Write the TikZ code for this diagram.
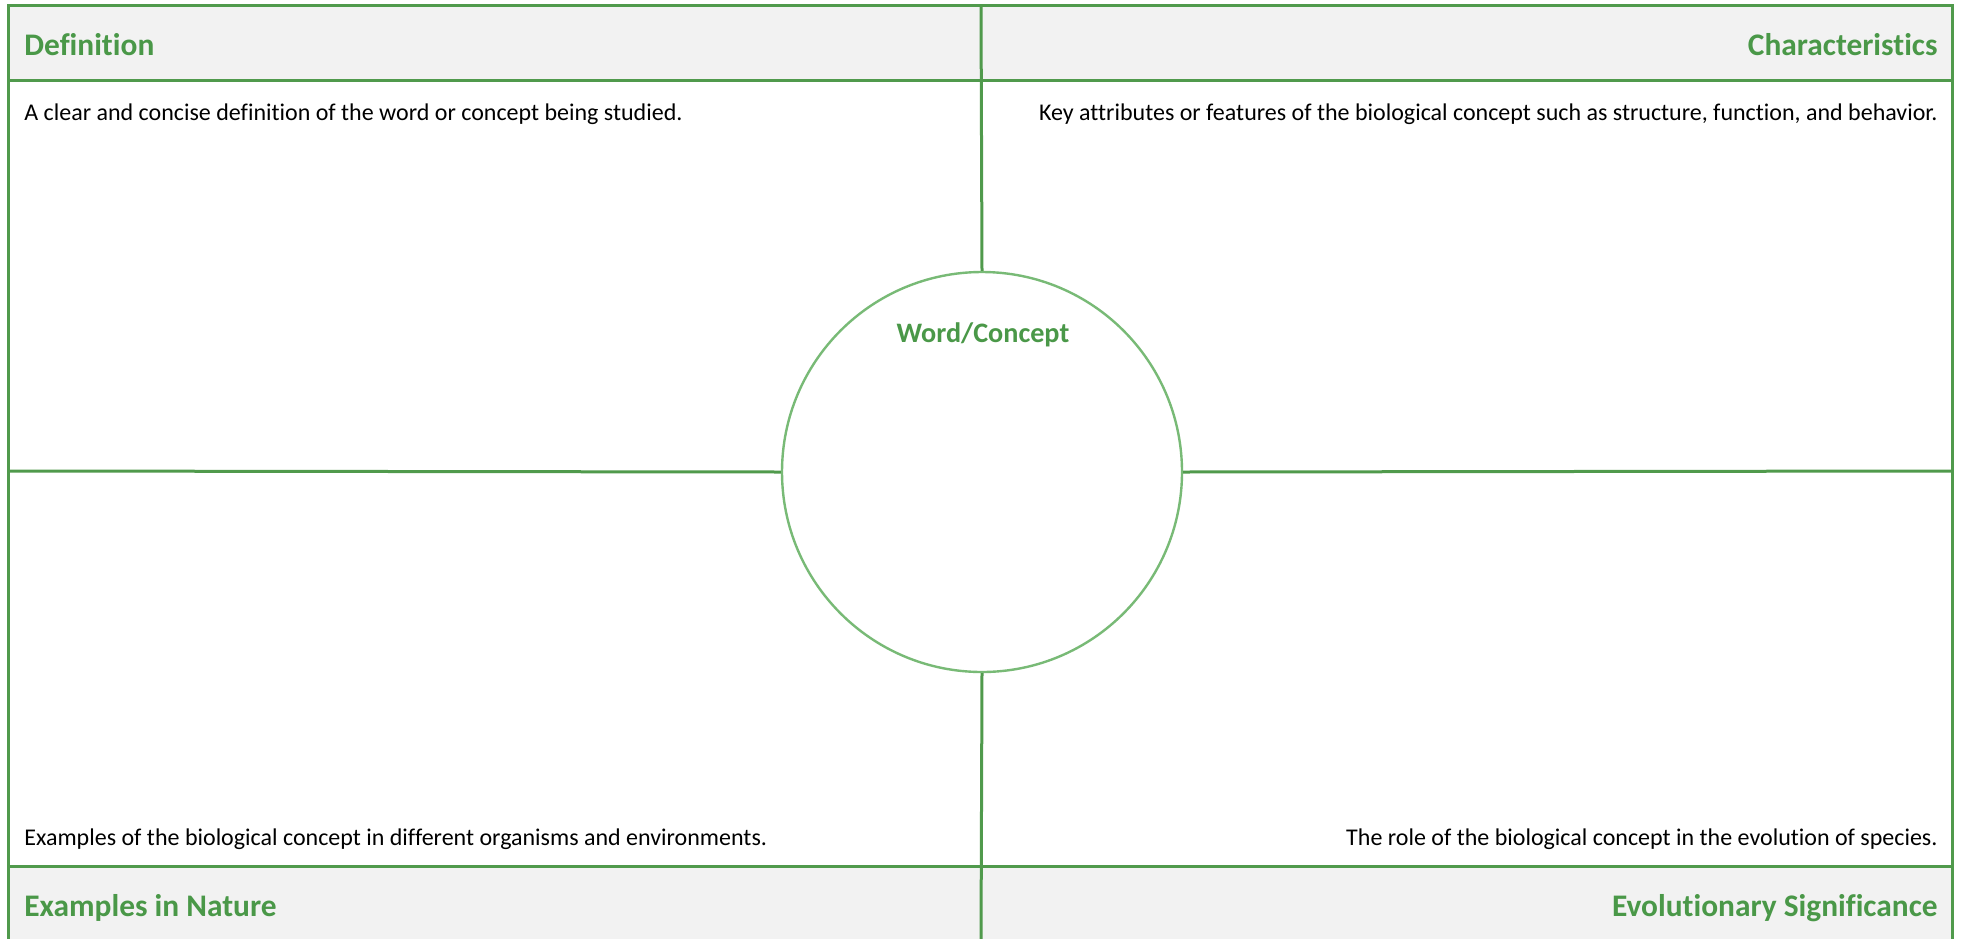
\documentclass[tikz,border=0pt]{standalone}
\usepackage{fontspec}
\setmainfont{Carlito}[Ligatures=NoCommon]
\definecolor{frame}{RGB}{80,154,76}
\definecolor{circ}{RGB}{120,186,118}
\definecolor{hdr}{RGB}{242,242,242}
\definecolor{hdrtext}{RGB}{74,152,72}
\begin{document}
\begin{tikzpicture}[x=0.5pt,y=-0.5pt,
  hdrlabel/.style={inner sep=0pt,font=\fontsize{15.7}{18}\selectfont\bfseries,text=hdrtext},
  bodylabel/.style={inner sep=0pt,font=\fontsize{12.0}{14}\selectfont,text=black},
  line/.style={draw=frame,line width=1.5pt}]
\useasboundingbox (0,0) rectangle (1961,938);
\fill[white] (0,0) rectangle (1961,938);
% header bands
\fill[hdr] (8,5) rectangle (1952,80);
\fill[hdr] (8,866) rectangle (1952,945);
% outer frame
\draw[line] (8,945) -- (8,5) -- (1952,5) -- (1952,945);
\draw[line] (8,80) -- (1952,80);
\draw[line] (8,866) -- (1952,866);
% circle
\node[draw=circ,line width=1.2pt,circle,minimum size=200pt,inner sep=0pt,fill=white] (c) at (982,472) {};
\coordinate (top) at (981,5);
\coordinate (bot) at (981,945);
\coordinate (lft) at (8,471);
\coordinate (rgt) at (1952,471);
\draw[line] (top) -- (c.north);
\draw[line] (c.south) -- (bot);
\draw[line] (lft) -- (c.west);
\draw[line] (c.east) -- (rgt);
\node[inner sep=0pt,anchor=base,font=\fontsize{14.1}{16}\selectfont\bfseries,text=hdrtext] (wc) at (983,342) {Word/Concept};
% labels
\node[hdrlabel,anchor=base west] (def) at (24,55) {Definition};
\node[bodylabel,anchor=base west] (deft) at (24,120) {A clear and concise definition of the word or concept being studied.};
\node[hdrlabel,anchor=base east] (ch) at (1938,55) {Characteristics};
\node[bodylabel,anchor=base east] (cht) at (1938,120) {Key attributes or features of the biological concept such as structure, function, and behavior.};
\node[bodylabel,anchor=base west] (ext) at (24,845) {Examples of the biological concept in different organisms and environments.};
\node[hdrlabel,anchor=base west] (ex) at (24,916) {Examples in Nature};
\node[bodylabel,anchor=base east] (evt) at (1938,845) {The role of the biological concept in the evolution of species.};
\node[hdrlabel,anchor=base east] (ev) at (1938,916) {Evolutionary Significance};
\end{tikzpicture}
\end{document}
